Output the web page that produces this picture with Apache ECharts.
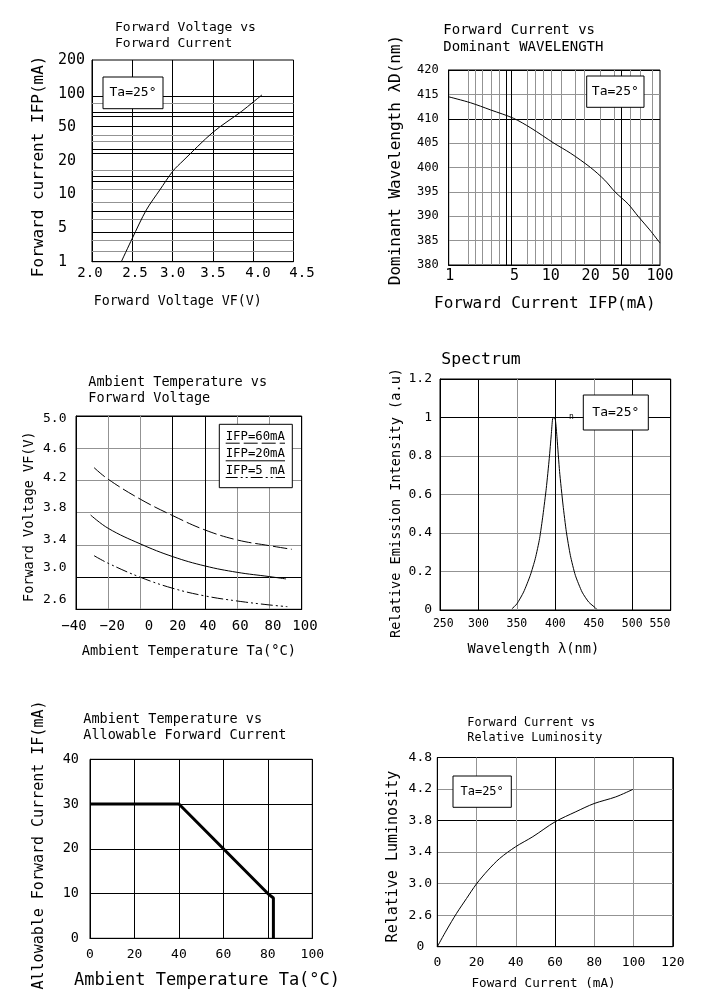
<!DOCTYPE html>
<html><head><meta charset="utf-8">
<script src="https://cdn.jsdelivr.net/npm/echarts@6/dist/echarts.min.js"></script>
<style>html,body{margin:0;padding:0;background:#fff}#c{width:708px;height:1007px}</style>
</head><body><div id="c"></div>
<script>
// ---------- data ----------
// Chart 1: Forward Voltage vs Forward Current (non-uniform y scale; values in label-step units)
const p1XTicks = ['2.0','2.5','3.0','3.5','4.0','4.5'];
const p1YTicks = ['1','5','10','20','50','100','200'];
const p1Curve = [[2.364,0],[2.50,0.696],[2.674,1.539],[2.84,2.13],[3.005,2.70],[3.129,3.0],[3.501,3.851],[3.852,4.464],[4.006,4.762],[4.109,4.961]];
const p1HGrid = [4.911,4.714,4.464,4.315,4.018,3.771,3.592,3.354,3.226,2.729,2.551,2.381,2.155,1.756,1.488,1.262,0.893,0.646,0.298];
const p1HGridDark = [1,0,1,1,1,0,0,1,1,0,1,1,0,0,1,0,1,0,0];
const p1XDark = [1,1,1,1,1,1];

// Chart 2: Forward Current vs Dominant Wavelength
const p2XTicks = [1,5,10,20,50,100];
const p2Curve = [[1,414.5],[1.6,413.3],[2.5,411.8],[4.1,410.1],[6,408.1],[9.9,405.0],[14.3,402.9],[22,400.0],[30,397.4],[37.5,395.0],[50,392.5],[62,390.0],[80,387.2],[100,384.5]];
const p2VGrid = [1.533,1.801,2.098,2.553,2.992,3.54,3.949,5.546,6.66,7.86,9.3,11.74,15.92,19.08,27.46,36.7,43.4,52.8,64.7,84.5];
const p2VGridDark = [0,0,0,0,0,1,1,0,0,0,0,0,0,0,0,0,1,0,0,0];
const p2YDark = [1,0,0,0,0,0,1,0,1];

// Chart 3: Ambient Temperature vs Forward Voltage
const p3Names = ['IFP=60mA','IFP=20mA','IFP=5 mA'];
const p3XTicks = ['\u221240','\u221220','0','20','40','60','80','100'];
const p3YTicks = ['2.6','3.0','3.4','3.8','4.2','4.6','5.0'];
const p3If60 = [[-28.8,4.359],[-20,4.214],[0,3.966],[20,3.763],[40,3.585],[60,3.461],[80,3.39],[93.8,3.345]];
const p3If20 = [[-30.9,3.77],[-20,3.605],[0,3.411],[20,3.254],[40,3.138],[60,3.059],[80,3.006],[90.3,2.977]];
const p3If5  = [[-28.8,3.266],[-20,3.171],[0,2.997],[20,2.861],[40,2.766],[60,2.703],[80,2.654],[91.1,2.633]];
const p3XDark = [1,0,0,1,1,0,0,1];
const p3YDark = [1,1,0,0,0,0,1];

// Chart 4: Spectrum
const p4XTicks = ['250','300','350','400','450','500','550'];
const p4YTicks = ['0','0.2','0.4','0.6','0.8','1','1.2'];
const p4Curve = [[343.5,0.006],[350,0.032],[358.7,0.093],[367.4,0.18],[373.9,0.267],[379.5,0.371],[383.9,0.493],[388.2,0.632],[392.1,0.788],[394.7,0.91],[396.4,0.993],[397.8,1.0],[400,0.988],[402.2,0.893],[405.5,0.719],[410,0.545],[414.3,0.406],[419.5,0.284],[426,0.18],[434.8,0.093],[443.4,0.041],[452.1,0.011],[453.8,0.004]];
const p4XDark = [1,1,0,1,0,1,1];
const p4YDark = [1,0,0,0,0,1,1];

// Chart 5: Ambient Temperature vs Allowable Forward Current
const p5Curve = [[0,30],[40,30],[80,10],[82.5,9],[82.5,0]];

// Chart 6: Forward Current vs Relative Luminosity (non-uniform y scale; values in label-step units)
const p6YTicks = ['0','2.6','3.0','3.4','3.8','4.2','4.8'];
const p6Curve = [[0,0],[4.73,0.528],[9.8,1.056],[14.9,1.53],[19.9,1.986],[25.9,2.43],[31.8,2.8],[39.9,3.17],[48.7,3.49],[60,3.96],[70.6,4.28],[79.9,4.54],[90.9,4.75],[99.7,4.99]];
const p6XDark = [1,0,0,1,0,0,1];
const p6YDark = [1,0,0,0,1,0,1];

// ---------- styling ----------
const FONT = '"DejaVu Sans Mono", monospace';
const GREY = '#939393', BLACK = '#000';
const cols = f => f.map(d => d ? BLACK : GREY);

// per-label nudges (px) so tick texts sit where the drawing puts them
const p1XNudge = [-2, 2.7, 0, 0, 4.8, 8.5];
const p2XNudge = [1, -8, -3.6, 4.5, -7.5, 0];
const p3XNudge = [-2, 4, 8.5, 5, 3, 3, 3.5, 3.3];
const p3YNudge = [-9.6, -9.4, -4.9, -5, -2.7, 0.8, 3];
const p4XNudge = [3.3, 0, 0, 0, 0, 0, -10.7];

function nudgeRich(offs, horiz, fs) {
  const rich = {};
  offs.forEach((d, i) => {
    const p = Math.abs(d) * 2;
    let pad;
    if (horiz) pad = d > 0 ? [0,0,0,p] : [0,p,0,0];
    else pad = d > 0 ? [p,0,0,0] : [0,0,p,0];
    rich['s' + i] = {padding: pad, fontSize: fs, fontFamily: FONT, color: BLACK};
  });
  return rich;
}
function nudgeLabel(texts, idxOf, offs, horiz, fs) {
  return {rich: nudgeRich(offs, horiz, fs), formatter: v => { const i = idxOf(v); return '{s' + i + '|' + texts[i] + '}'; }};
}

function axis(o) {
  const a = {
    gridIndex: o.g, type: o.type || 'value', min: o.min, max: o.max,
    axisLine: {show: true, onZero: false, lineStyle: {color: BLACK, width: 1}},
    axisTick: {show: false},
    splitLine: o.dark ? {show: true, lineStyle: {color: cols(o.dark), width: 1}} : {show: false},
    axisLabel: Object.assign({color: BLACK, fontFamily: FONT, fontSize: o.fs, margin: o.margin}, o.fmt ? {formatter: o.fmt} : {}, o.label || {}),
    name: o.name, nameLocation: 'middle', nameGap: o.gap,
    nameTextStyle: {color: BLACK, fontFamily: FONT, fontSize: o.nfs, padding: o.pad || [0,0,0,0]}
  };
  if (o.interval != null) a.interval = o.interval;
  if (o.rot) a.nameRotate = 90;
  if (o.type === 'log') a.logBase = 10;
  return a;
}
function gridMarks(key, vals, dark) {
  return {silent: true, z: 1, symbol: ['none','none'], label: {show: false}, animation: false,
    emphasis: {disabled: true},
    data: vals.map((v, i) => ({[key]: v, lineStyle: {color: dark[i] ? BLACK : GREY, width: 1, type: 'solid'}}))};
}
function line(xi, data, extra) {
  return Object.assign({type: 'line', xAxisIndex: xi, yAxisIndex: xi, data: data, symbol: 'none', z: 3,
    silent: true, lineStyle: {color: BLACK, width: 1}}, extra || {});
}
function tbox(x, y, w, h, txt, fs) {
  return [
    {type: 'rect', z: 100, shape: {x: x, y: y, width: w, height: h}, style: {fill: '#fff', stroke: BLACK, lineWidth: 1}},
    {type: 'text', z: 101, style: {text: txt, x: x + w / 2, y: y + h / 2, align: 'center', verticalAlign: 'middle', fontSize: fs, fontFamily: FONT, fill: BLACK}}
  ];
}
const ttl = (text, left, top, fs, lh) => ({text, left, top, padding: 0,
  textStyle: {fontFamily: FONT, fontWeight: 'normal', fontSize: fs, lineHeight: lh, color: BLACK}});

const grids = [
  {left: 92, top: 60, width: 201.5, height: 201.7},
  {left: 448.7, top: 70, width: 211.3, height: 195},
  {left: 76, top: 416, width: 225.7, height: 193.3},
  {left: 440, top: 379, width: 230.7, height: 231},
  {left: 90, top: 759.3, width: 222.3, height: 179},
  {left: 437.3, top: 757.5, width: 235.5, height: 189.2}
].map(g => Object.assign({show: true, borderColor: BLACK, borderWidth: 1, containLabel: false, outerBoundsMode: 'none', backgroundColor: 'transparent'}, g));

const xAxes = [
  axis({g:0, min:2.0, max:4.5, interval:0.5, dark:p1XDark, fs:14, margin:5,
        label: nudgeLabel(p1XTicks, v => Math.round((v - 2) / 0.5), p1XNudge, true, 14),
        name:'Forward Voltage VF(V)', gap:33.6, nfs:13.3, pad:[0,30,0,0]}),
  axis({g:1, type:'log', min:1, max:100, fs:15, margin:3.5,
        label: Object.assign({customValues: p2XTicks}, nudgeLabel(p2XTicks, v => p2XTicks.indexOf(Math.round(v)), p2XNudge, true, 15)),
        name:'Forward Current IFP(mA)', gap:31.3, nfs:16, pad:[0,19,0,0]}),
  axis({g:2, min:-40, max:100, interval:20, dark:p3XDark, fs:14, margin:10,
        label: nudgeLabel(p3XTicks, v => Math.round((v + 40) / 20), p3XNudge, true, 14),
        name:'Ambient Temperature Ta(°C)', gap:35.5, nfs:13.7}),
  axis({g:3, min:250, max:550, interval:50, dark:p4XDark, fs:11.5, margin:8,
        label: nudgeLabel(p4XTicks, v => Math.round((v - 250) / 50), p4XNudge, true, 11.5),
        name:'Wavelength \u03BB(nm)', gap:32.5, nfs:13.7, pad:[0,44,0,0]}),
  axis({g:4, min:0, max:100, interval:20, dark:[1,1,1,1,1,1], fs:13, margin:10,
        name:'Ambient Temperature Ta(°C)', gap:33.9, nfs:17, pad:[0,0,0,11.7]}),
  axis({g:5, min:0, max:120, interval:20, dark:p6XDark, fs:13, margin:9.5,
        name:'Foward Current (mA)', gap:30.3, nfs:12.6, pad:[0,23,0,0]})
];
const yAxes = [
  axis({g:0, min:0, max:6, interval:1, fs:15, margin:34, fmt: v => p1YTicks[Math.round(v)], label:{align:'left'},
        name:'Forward current IFP(mA)', gap:45, nfs:16, rot:true, pad:[0,11,0,0]}),
  axis({g:1, min:380, max:420, interval:5, dark:p2YDark, fs:12, margin:10, label:{align:'right'},
        name:'Dominant Wavelength \u03BBD(nm)', gap:44.9, nfs:16, rot:true, pad:[0,0,0,15]}),
  axis({g:2, min:2.6, max:5.0, interval:0.4, dark:p3YDark, fs:13, margin:33,
        label: Object.assign({align:'left'}, nudgeLabel(p3YTicks, v => Math.round((v - 2.6) / 0.4), p3YNudge, false, 13)),
        name:'Forward Voltage VF(V)', gap:39.3, nfs:13.5, rot:true, pad:[0,8,0,0]}),
  axis({g:3, min:0, max:1.2, interval:0.2, dark:p4YDark, fs:13, margin:8, fmt: v => p4YTicks[Math.round(v / 0.2)], label:{align:'right'},
        name:'Relative Emission Intensity (a.u)', gap:36.7, nfs:13.6, rot:true, pad:[0,17,0,0]}),
  axis({g:4, min:0, max:40, interval:10, dark:[1,1,1,1,1], fs:13.5, margin:11, label:{align:'right'},
        name:'Allowable Forward Current IF(mA)', gap:43.3, nfs:15, rot:true, pad:[0,0,0,7.6]}),
  axis({g:5, min:0, max:6, interval:1, dark:p6YDark, fs:13, margin:17, fmt: v => p6YTicks[Math.round(v)], label:{align:'center'},
        name:'Relative Luminosity', gap:36.6, nfs:15, rot:true, pad:[0,9,0,0]})
];

const series = [
  line(0, p1Curve, {smooth: 0.3, markLine: gridMarks('yAxis', p1HGrid, p1HGridDark)}),
  line(1, p2Curve, {smooth: 0.3, markLine: gridMarks('xAxis', p2VGrid, p2VGridDark)}),
  line(2, p3If60, {name: p3Names[0], smooth: 0.4, lineStyle: {color: BLACK, width: 1, type: [14, 4]}}),
  line(2, p3If20, {name: p3Names[1], smooth: 0.4}),
  line(2, p3If5,  {name: p3Names[2], smooth: 0.4, lineStyle: {color: BLACK, width: 1, type: [12, 3, 2, 3, 2, 3]}}),
  line(3, p4Curve, {smooth: 0.2}),
  line(4, p5Curve, {lineStyle: {color: BLACK, width: 3}}),
  line(5, p6Curve, {smooth: 0.3})
];

// chart 3 legend
const lg = {x: 219.3, y: 424.3, w: 73, h: 63.4};
const lgRows = [436.7, 454.3, 471];
const lgDash = [[14, 4], null, [12, 3, 2, 3, 2, 3]];
const legend3 = [{type: 'rect', z: 100, shape: {x: lg.x, y: lg.y, width: lg.w, height: lg.h}, style: {fill: '#fff', stroke: BLACK, lineWidth: 1}}];
p3Names.forEach((n, i) => {
  legend3.push({type: 'text', z: 101, style: {text: n, x: 225.7, y: lgRows[i], align: 'left', verticalAlign: 'middle', fontSize: 12.3, fontFamily: FONT, fill: BLACK}});
  legend3.push({type: 'line', z: 101, shape: {x1: 225.7, y1: lgRows[i] + 6.5, x2: 285, y2: lgRows[i] + 6.5},
    style: {stroke: BLACK, lineWidth: 1, lineDash: lgDash[i] || null}});
});

const graphic = [].concat(
  tbox(103, 77, 60, 31.7, 'Ta=25°', 13),
  tbox(586.7, 76, 57.3, 31.3, 'Ta=25°', 13),
  legend3,
  tbox(583.3, 395, 65, 35, 'Ta=25°', 13),
  [{type: 'text', z: 101, style: {text: 'n', x: 571.3, y: 417.3, align: 'center', verticalAlign: 'middle', fontSize: 8, fontFamily: FONT, fill: BLACK}}],
  tbox(453, 776, 58.3, 31.3, 'Ta=25°', 12)
);

const option = {
  animation: false,
  backgroundColor: '#fff',
  textStyle: {fontFamily: FONT, color: BLACK},
  title: [
    ttl('Forward Voltage vs\nForward Current', 115, 20, 13, 16),
    ttl('Forward Current vs\nDominant WAVELENGTH', 443.3, 21.5, 14, 17),
    ttl('Ambient Temperature vs\nForward Voltage', 88.3, 374.5, 13.5, 16.3),
    ttl('Spectrum', 441.3, 350.3, 16.5, 18),
    ttl('Ambient Temperature vs\nAllowable Forward Current', 83.3, 712, 13.5, 15.7),
    ttl('Forward Current vs\nRelative Luminosity', 467.3, 715.2, 11.8, 15)
  ],
  grid: grids, xAxis: xAxes, yAxis: yAxes, series: series, graphic: graphic
};
const chart = echarts.init(document.getElementById('c'), null, {renderer: 'canvas'});
chart.setOption(option);
</script></body></html>
